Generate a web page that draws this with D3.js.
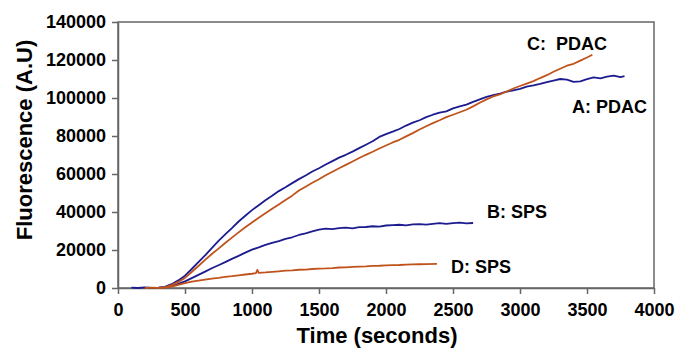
<!DOCTYPE html>
<html>
<head>
<meta charset="utf-8">
<script src="https://cdn.jsdelivr.net/npm/d3@7"></script>
<style>
  body { margin: 0; background: #fff; }
  svg { display: block; font-family: "Liberation Sans", Arial, sans-serif; }
</style>
</head>
<body>
<svg id="chart"></svg>
<script>
// [time (s), fluorescence (A.U)]
const seriesA = [[100,200],[150,0],[200,300],[250,100],[300,200],[350,600],[400,2000],[450,4000],[500,6500],[550,10000],[600,13600],[650,17200],[700,21000],[750,24800],[800,28200],[850,31500],[900,35000],[950,38000],[1000,41000],[1050,43600],[1100,46200],[1150,48500],[1200,51000],[1250,53000],[1300,55200],[1350,57300],[1400,59200],[1450,61300],[1500,63000],[1550,65000],[1600,66800],[1650,68600],[1700,70100],[1750,71800],[1800,73600],[1850,75400],[1900,77200],[1950,79500],[2000,81000],[2050,82300],[2100,83700],[2150,85500],[2200,87000],[2250,88300],[2300,89900],[2350,91200],[2400,92300],[2450,93000],[2500,94500],[2550,95600],[2600,96500],[2650,98000],[2700,99300],[2750,100600],[2800,101500],[2850,102300],[2900,103300],[2950,104000],[3000,104800],[3050,106000],[3100,106600],[3150,107400],[3200,108300],[3250,109200],[3300,110000],[3350,109700],[3400,108500],[3450,108800],[3500,109900],[3550,110800],[3600,110300],[3650,111200],[3700,111800],[3750,111000],[3780,111500]];
const seriesB = [[300,0],[350,300],[400,1000],[450,2200],[500,3500],[550,5200],[600,6900],[650,8600],[700,10400],[750,12000],[800,13600],[850,15300],[900,16900],[950,18600],[1000,20200],[1050,21400],[1100,22700],[1150,23800],[1200,24700],[1250,25800],[1300,26700],[1350,27900],[1400,28800],[1450,29800],[1500,30700],[1550,31200],[1600,31000],[1650,31500],[1700,31800],[1750,31400],[1800,32000],[1850,32100],[1900,32500],[1950,32300],[2000,32900],[2050,33100],[2100,33300],[2150,33000],[2200,33500],[2250,33600],[2300,33400],[2350,33800],[2400,34200],[2450,33700],[2500,34100],[2550,34400],[2600,34000],[2650,34200]];
const seriesC = [[200,0],[250,200],[300,100],[350,400],[400,1500],[450,3200],[500,5300],[550,8400],[600,11600],[650,14800],[700,17900],[750,20700],[800,23700],[850,26500],[900,29300],[950,32000],[1000,34500],[1050,37000],[1100,39300],[1150,41700],[1200,44000],[1250,46300],[1300,48600],[1350,51300],[1400,53300],[1450,55400],[1500,57200],[1550,59300],[1600,61200],[1650,63000],[1700,64800],[1750,66600],[1800,68400],[1850,70100],[1900,71700],[1950,73400],[2000,75000],[2050,76600],[2100,78000],[2150,79800],[2200,81500],[2250,83400],[2300,85100],[2350,86800],[2400,88300],[2450,89900],[2500,91200],[2550,92500],[2600,93800],[2650,95600],[2700,97500],[2750,99300],[2800,100800],[2850,101900],[2900,103400],[2950,105000],[3000,106300],[3050,107600],[3100,108900],[3150,110500],[3200,112000],[3250,113800],[3300,115400],[3350,117000],[3400,118000],[3450,119700],[3500,121300],[3540,122800]];
const seriesD = [[300,0],[350,200],[400,700],[450,1600],[500,2600],[550,3300],[600,3900],[650,4400],[700,4900],[750,5300],[800,5800],[850,6200],[900,6700],[950,7100],[1000,7500],[1030,7800],[1040,9500],[1050,8000],[1100,8200],[1150,8500],[1200,8800],[1250,9100],[1300,9300],[1350,9600],[1400,9700],[1450,10000],[1500,10200],[1550,10300],[1600,10500],[1650,10800],[1700,10900],[1750,11100],[1800,11300],[1850,11400],[1900,11600],[1950,11700],[2000,11900],[2050,12000],[2100,12100],[2150,12300],[2200,12400],[2250,12500],[2300,12600],[2380,12700]];

const seriesList = [
  { name: "A: PDAC", data: seriesA, color: "#1c1c8f", label: [572, 113] },
  { name: "B: SPS",  data: seriesB, color: "#1c1c8f", label: [487, 218] },
  { name: "C:  PDAC", data: seriesC, color: "#c0531c", label: [527, 50] },
  { name: "D: SPS",  data: seriesD, color: "#c0531c", label: [451, 273] }
];
const xTicks = [0, 500, 1000, 1500, 2000, 2500, 3000, 3500, 4000];
const yTicks = [0, 20000, 40000, 60000, 80000, 100000, 120000, 140000];

const W = 675, H = 350;
const margin = { top: 22, right: 21, bottom: 62, left: 118 };
const width = W - margin.left - margin.right,
      height = H - margin.top - margin.bottom;

const svg = d3.select("#chart").attr("width", W).attr("height", H);
const g = svg.append("g").attr("transform", `translate(${margin.left},${margin.top})`);

const x = d3.scaleLinear().domain([0, 4000]).range([0, width]);
const y = d3.scaleLinear().domain([0, 140000]).range([height, 0]);

const axisColor = "#666";

// frame
g.append("rect")
  .attr("width", width).attr("height", height)
  .attr("fill", "none").attr("stroke", axisColor).attr("stroke-width", 1.5);

const xAxis = g.append("g")
  .attr("transform", `translate(0,${height})`)
  .call(d3.axisBottom(x).tickValues(xTicks).tickFormat(d3.format("d"))
    .tickSize(6).tickSizeOuter(0).tickPadding(9));
const yAxis = g.append("g")
  .call(d3.axisLeft(y).tickValues(yTicks).tickFormat(d3.format("d"))
    .tickSize(6).tickSizeOuter(0).tickPadding(6));

[xAxis, yAxis].forEach(a => {
  a.select(".domain").attr("stroke", axisColor).attr("stroke-width", 1.5);
  a.selectAll(".tick line").attr("stroke", axisColor).attr("stroke-width", 1.5);
  a.selectAll(".tick text")
    .attr("fill", "#000")
    .style("font-size", "18px")
    .style("font-weight", "bold")
    .style("font-family", "'Liberation Sans', Arial, sans-serif");
});

const line = d3.line().x(d => x(d[0])).y(d => y(d[1]));

g.selectAll(".series")
  .data(seriesList)
  .enter().append("path")
  .attr("class", "series")
  .attr("d", d => line(d.data))
  .attr("fill", "none")
  .attr("stroke", d => d.color)
  .attr("stroke-width", 1.8)
  .attr("stroke-linejoin", "round");

svg.selectAll(".slabel")
  .data(seriesList)
  .enter().append("text")
  .attr("class", "slabel")
  .attr("x", d => d.label[0])
  .attr("y", d => d.label[1])
  .style("font-size", "18px")
  .style("font-weight", "bold")
  .style("white-space", "pre")
  .attr("fill", "#000")
  .text(d => d.name);

svg.append("text")
  .attr("x", margin.left + width / 2 - 9)
  .attr("y", 343)
  .attr("text-anchor", "middle")
  .style("font-size", "22px")
  .style("font-weight", "bold")
  .text("Time (seconds)");

svg.append("text")
  .attr("transform", `translate(32,140) rotate(-90)`)
  .attr("text-anchor", "middle")
  .style("font-size", "22px")
  .style("font-weight", "bold")
  .text("Fluorescence (A.U)");
</script>
</body>
</html>
